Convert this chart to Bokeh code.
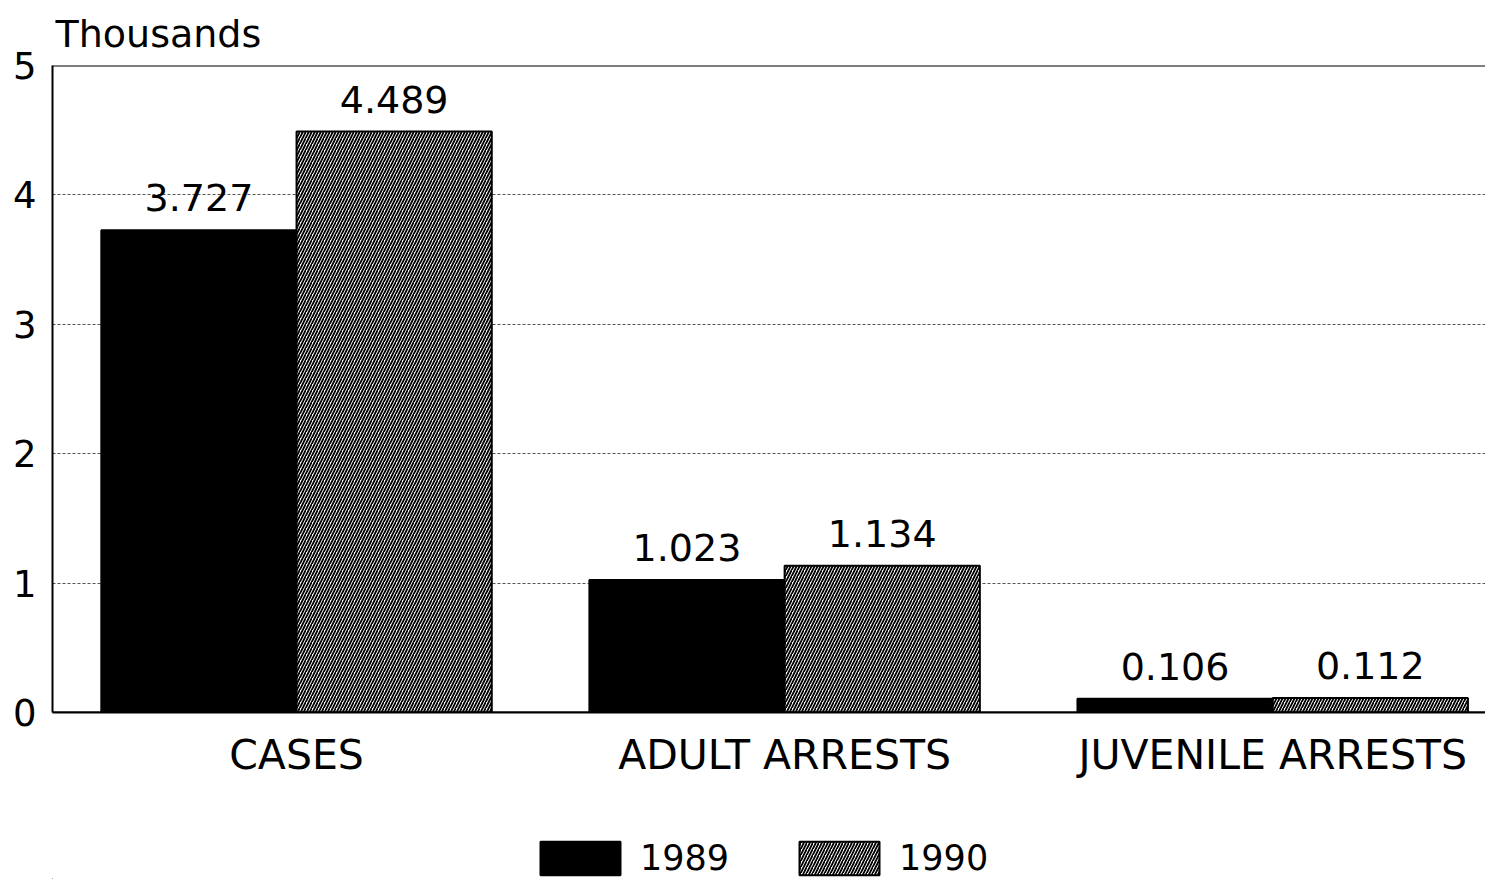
from bokeh.plotting import figure
from bokeh.layouts import column
from bokeh.models import ColumnDataSource, Range1d, FixedTicker, Span, Legend, LegendItem, LabelSet
from bokeh.core.properties import value
from bokeh.embed import file_html
from bokeh.resources import INLINE

categories = ["CASES", "ADULT ARRESTS", "JUVENILE ARRESTS"]
years = ["1989", "1990"]
values_1989 = [3.727, 1.023, 0.106]
values_1990 = [4.489, 1.134, 0.112]
y_ticks = [0, 1, 2, 3, 4, 5]

FONT = "DejaVu Sans"
HATCH = dict(hatch_pattern="right_diagonal_line", hatch_color="black",
             hatch_scale=6, hatch_weight=1.8)

centers = [i + 0.5 for i in range(len(categories))]
bw = 0.4
src89 = ColumnDataSource(dict(x=[c - bw / 2 for c in centers], top=values_1989,
                              lab=["%.3f" % v for v in values_1989]))
src90 = ColumnDataSource(dict(x=[c + bw / 2 for c in centers], top=values_1990,
                              lab=["%.3f" % v for v in values_1990]))

p = figure(width=1485, height=800, output_backend="svg", toolbar_location=None,
           x_range=Range1d(0, 2.936), y_range=Range1d(0, 5),
           min_border_left=52, min_border_right=0, min_border_top=64, min_border_bottom=88)
p.outline_line_color = None
p.background_fill_color = "white"

p.title.text = "Thousands"
p.title.align = "left"
p.title.text_font = FONT
p.title.text_font_size = "38px"
p.title.text_font_style = "normal"
p.title.text_color = "black"
p.title.offset = 3
p.title.standoff = 19

r89 = p.vbar(x="x", top="top", width=bw, source=src89, fill_color="black",
             line_color="black", line_width=2)
r90 = p.vbar(x="x", top="top", width=bw, source=src90, fill_color="white",
             line_color="black", line_width=2, **HATCH)

for src in (src89, src90):
    p.add_layout(LabelSet(x="x", y="top", text="lab", source=src, text_align="center",
                          text_baseline="bottom", y_offset=19, text_font=value(FONT),
                          text_font_size="38px", text_color="black"))

p.add_layout(Span(location=5, dimension="width", line_color="black", line_width=2))

p.yaxis.ticker = FixedTicker(ticks=y_ticks)
p.yaxis.major_tick_line_color = None
p.yaxis.minor_tick_line_color = None
p.yaxis.axis_line_color = "black"
p.yaxis.axis_line_width = 2
p.yaxis.major_label_text_font = FONT
p.yaxis.major_label_text_font_size = "37px"
p.yaxis.major_label_text_color = "black"
p.yaxis.major_label_standoff = 10

p.xaxis.ticker = FixedTicker(ticks=centers)
p.xaxis.major_label_overrides = {c: cat for c, cat in zip(centers, categories)}
p.xaxis.major_tick_line_color = None
p.xaxis.minor_tick_line_color = None
p.xaxis.axis_line_color = "black"
p.xaxis.axis_line_width = 2
p.xaxis.major_label_text_font = FONT
p.xaxis.major_label_text_font_size = "41px"
p.xaxis.major_label_text_color = "black"
p.xaxis.major_label_standoff = 12

p.xgrid.grid_line_color = None
p.ygrid.grid_line_color = "#555555"
p.ygrid.grid_line_dash = "3 2"
p.ygrid.grid_line_width = 1

p.add_layout(Span(location=0, dimension="width", line_color="black", line_width=2))

# legend strip below the chart (proxy glyphs lie outside the visible range)
lg = figure(width=1485, height=79, output_backend="svg", toolbar_location=None,
            x_range=Range1d(0, 1), y_range=Range1d(0, 1),
            x_axis_type=None, y_axis_type=None,
            min_border_left=0, min_border_right=0, min_border_top=0, min_border_bottom=0)
lg.outline_line_color = None
lg.xgrid.grid_line_color = None
lg.ygrid.grid_line_color = None
proxy = ColumnDataSource(dict(x=[-5], top=[-5]))
e89 = lg.vbar(x="x", top="top", width=0.1, source=proxy, fill_color="black",
              line_color="black", line_width=2)
e90 = lg.vbar(x="x", top="top", width=0.1, source=proxy, fill_color="white",
              line_color="black", line_width=2, **HATCH)
legend = Legend(items=[LegendItem(label=years[0], renderers=[e89]),
                       LegendItem(label=years[1], renderers=[e90])],
                orientation="horizontal", location=(478, 0),
                glyph_width=100, glyph_height=42, label_text_font=FONT,
                label_text_font_size="35px", label_text_color="black",
                label_standoff=10, spacing=60,
                border_line_color=None, background_fill_alpha=0, margin=0, padding=0)
lg.add_layout(legend, "center")

layout = column(p, lg, spacing=0)
open("out.html", "w").write(file_html(layout, INLINE))
